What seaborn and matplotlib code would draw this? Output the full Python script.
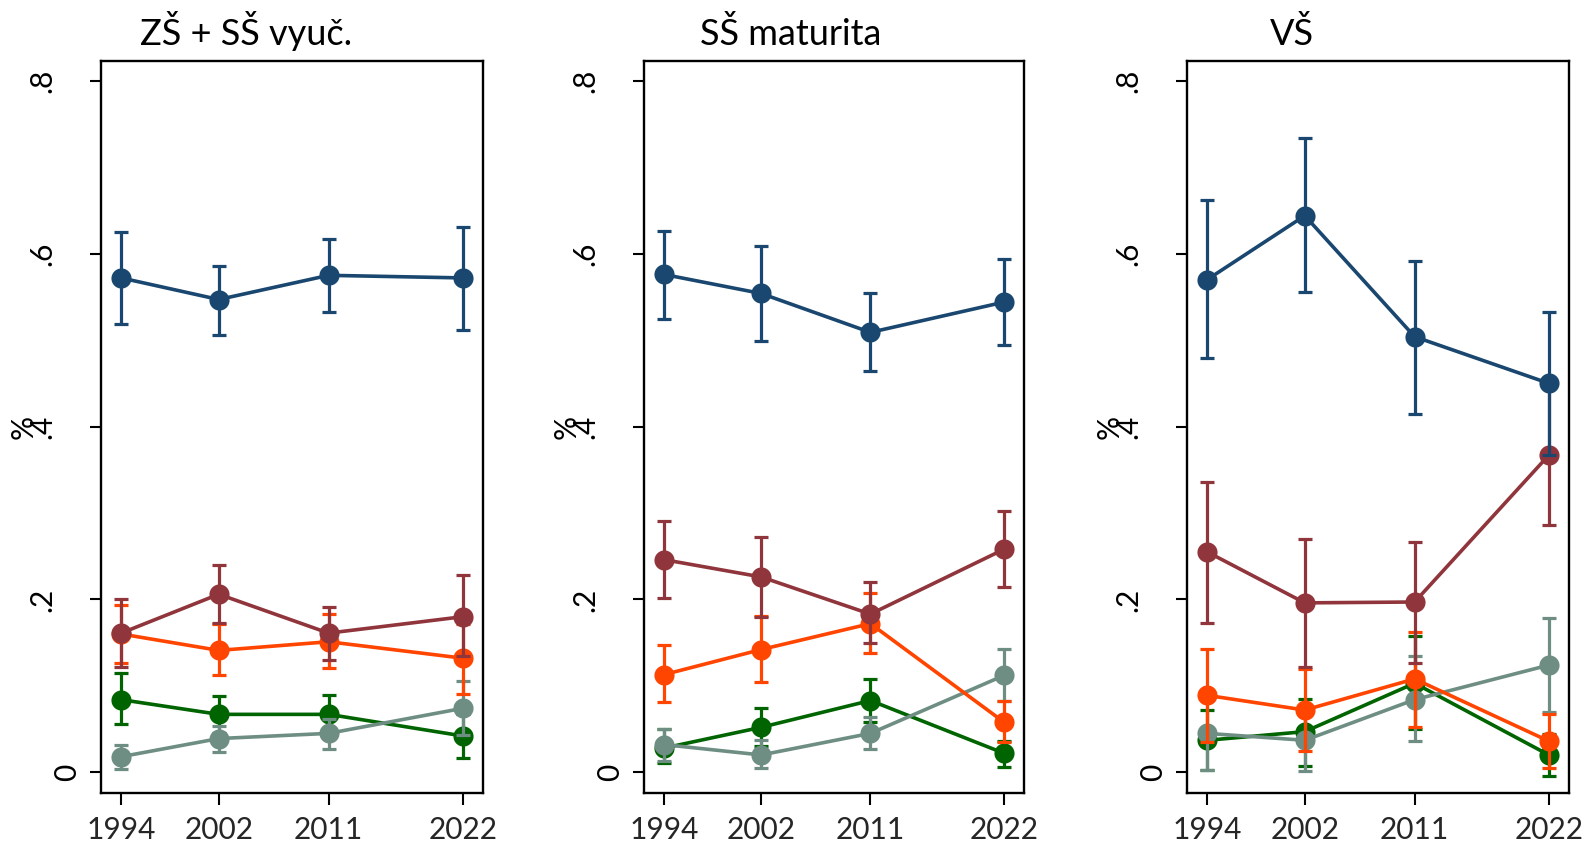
import pandas as pd
import seaborn as sns
import matplotlib.pyplot as plt
from matplotlib.transforms import ScaledTranslation

# survey years and panel titles
years = [1994, 2002, 2011, 2022]
titles = ["ZŠ + SŠ vyuč.", "SŠ maturita", "VŠ"]
ytick_vals = [0, 0.2, 0.4, 0.6, 0.8]
ytick_labels = ["0", ".2", ".4", ".6", ".8"]

# ZŠ + SŠ vyuč.
zs_mid = {"navy": [0.572, 0.547, 0.575, 0.572], "maroon": [0.161, 0.206, 0.161, 0.180],
          "orange": [0.160, 0.141, 0.151, 0.132], "green": [0.084, 0.067, 0.067, 0.042],
          "gray": [0.018, 0.039, 0.045, 0.074]}
zs_lo = {"navy": [0.519, 0.506, 0.533, 0.512], "maroon": [0.122, 0.173, 0.130, 0.134],
         "orange": [0.126, 0.113, 0.121, 0.091], "green": [0.056, 0.046, 0.045, 0.017],
         "gray": [0.004, 0.023, 0.027, 0.043]}
zs_hi = {"navy": [0.625, 0.586, 0.617, 0.631], "maroon": [0.200, 0.240, 0.191, 0.228],
         "orange": [0.194, 0.171, 0.183, 0.172], "green": [0.115, 0.088, 0.089, 0.067],
         "gray": [0.032, 0.054, 0.062, 0.106]}

# SŠ maturita
ss_mid = {"navy": [0.576, 0.554, 0.509, 0.544], "maroon": [0.246, 0.226, 0.183, 0.258],
          "orange": [0.113, 0.142, 0.172, 0.058], "green": [0.028, 0.052, 0.083, 0.022],
          "gray": [0.032, 0.020, 0.045, 0.112]}
ss_lo = {"navy": [0.524, 0.499, 0.464, 0.494], "maroon": [0.202, 0.180, 0.149, 0.214],
         "orange": [0.081, 0.104, 0.138, 0.035], "green": [0.011, 0.030, 0.058, 0.006],
         "gray": [0.013, 0.005, 0.027, 0.082]}
ss_hi = {"navy": [0.626, 0.609, 0.554, 0.594], "maroon": [0.291, 0.272, 0.220, 0.302],
         "orange": [0.147, 0.181, 0.207, 0.082], "green": [0.050, 0.074, 0.108, 0.036],
         "gray": [0.050, 0.037, 0.064, 0.143]}

# VŠ
vs_mid = {"navy": [0.570, 0.644, 0.504, 0.450], "maroon": [0.255, 0.196, 0.197, 0.367],
          "orange": [0.089, 0.072, 0.108, 0.036], "green": [0.037, 0.047, 0.103, 0.020],
          "gray": [0.045, 0.037, 0.084, 0.124]}
vs_lo = {"navy": [0.479, 0.556, 0.415, 0.367], "maroon": [0.173, 0.122, 0.126, 0.286],
         "orange": [0.035, 0.025, 0.052, 0.005], "green": [0.003, 0.007, 0.050, -0.004],
         "gray": [0.003, 0.002, 0.036, 0.070]}
vs_hi = {"navy": [0.662, 0.734, 0.592, 0.532], "maroon": [0.336, 0.270, 0.267, 0.450],
         "orange": [0.143, 0.120, 0.162, 0.067], "green": [0.072, 0.085, 0.158, 0.044],
         "gray": [0.087, 0.072, 0.134, 0.179]}

panels = [(zs_mid, zs_lo, zs_hi), (ss_mid, ss_lo, ss_hi), (vs_mid, vs_lo, vs_hi)]

# drawing order: last one ends up on top
series_order = ["green", "gray", "orange", "maroon", "navy"]
palette = {"navy": "#1a476f", "maroon": "#90353b", "orange": "#ff4500",
           "green": "#006400", "gray": "#6e8e84"}


def long_table(mid, lo, hi):
    # three rows per point (lo, mid, hi): median gives the estimate, min/max the interval
    rows = []
    for s in series_order:
        for i, yr in enumerate(years):
            for v in (lo[s][i], mid[s][i], hi[s][i]):
                rows.append({"year": yr, "share": v, "series": s})
    return pd.DataFrame(rows)


sns.set_theme(style="white")
plt.rcParams["font.family"] = ["Lato", "DejaVu Sans"]

fig = plt.figure(figsize=(15.88, 8.48), dpi=100)
axes_left = [101, 644, 1187]
axes_width = [382, 380, 382]
title_x = [246, 791, 1292]

for k, (mid, lo, hi) in enumerate(panels):
    ax = fig.add_axes([axes_left[k] / 1588, 55 / 848, axes_width[k] / 1588, 732 / 848])
    df = long_table(mid, lo, hi)
    sns.lineplot(data=df, x="year", y="share", hue="series", hue_order=series_order,
                 palette=palette, estimator="median",
                 errorbar=lambda v: (v.min(), v.max()), err_style="bars",
                 err_kws=dict(capsize=5.0, elinewidth=2.3, capthick=2.3),
                 marker="o", markersize=14.5, markeredgewidth=0, linewidth=2.6,
                 legend=False, ax=ax)

    ax.set_xlim(1992.35, 2023.65)
    ax.set_ylim(-0.024, 0.823)
    ax.set_xticks(years)
    ax.set_xticklabels([str(y) for y in years])
    ax.set_yticks(ytick_vals)
    ax.set_xlabel("")
    ax.set_ylabel("")
    ax.tick_params(axis="x", direction="out", length=8.5, width=1.5, pad=8,
                   labelsize=21.5, bottom=True, color="black")
    ax.tick_params(axis="y", direction="out", length=8, width=1.5, left=True,
                   labelleft=False, color="black")
    for sp in ax.spines.values():
        sp.set_visible(True)
        sp.set_color("black")
        sp.set_linewidth(1.7)

    # rotated y tick labels, Stata-like placement
    for v, lab in zip(ytick_vals, ytick_labels):
        off = -0.25 if lab == "0" else -0.50
        tr = ax.get_yaxis_transform() + ScaledTranslation(off, 0, fig.dpi_scale_trans)
        ax.text(0, v, lab, transform=tr, rotation=90, rotation_mode="anchor",
                ha="center", va="baseline", fontsize=21.5, color="black")
    tr = ax.transAxes + ScaledTranslation(-0.68, 0, fig.dpi_scale_trans)
    ax.text(0, 0.5, "%", transform=tr, rotation=90, rotation_mode="anchor",
            ha="center", va="baseline", fontsize=21.5, color="black")

    fig.text(title_x[k] / 1588, 1 - 45 / 848, titles[k], ha="center", va="baseline",
             fontsize=26, color="black")

fig.savefig("out.png", dpi=100)
